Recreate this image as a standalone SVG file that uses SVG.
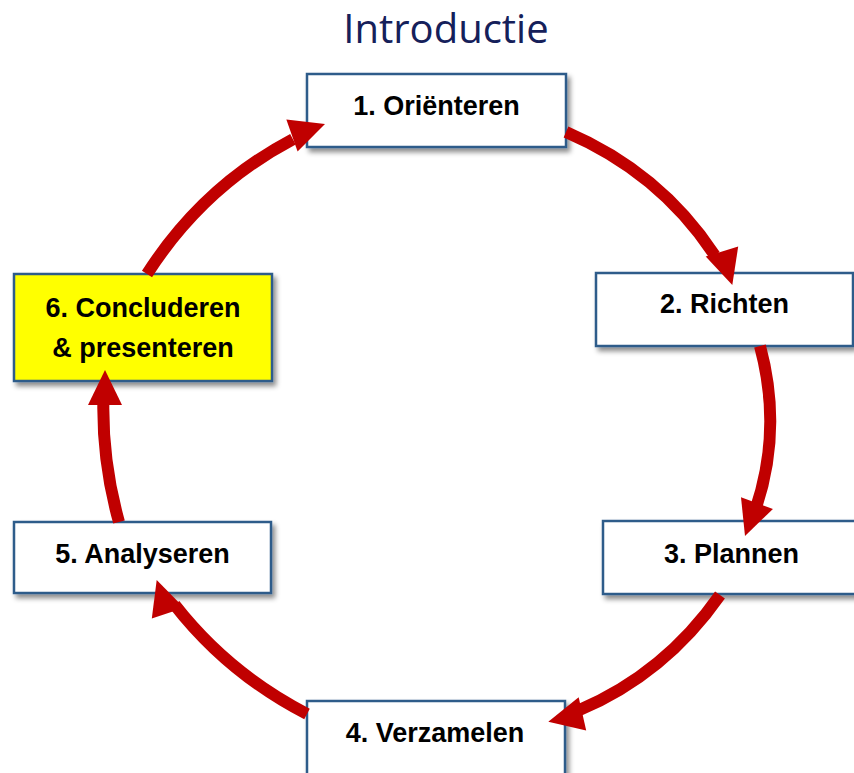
<svg xmlns="http://www.w3.org/2000/svg" width="854" height="773" viewBox="0 0 854 773">
  <style>
    .box { fill: #FFFFFF; stroke: #2F5B8A; stroke-width: 2.5; filter: url(#shadow); }
    .hl { fill: #FFFF00; }
    .lbl { font-family: "Liberation Sans", Arial, sans-serif; font-weight: bold; font-size: 27px; fill: #000000; text-anchor: middle; }
    .title { font-family: "Open Sans", "Liberation Sans", sans-serif; font-size: 40px; fill: #15205A; text-anchor: middle; }
    .arc { fill: none; stroke: #C00000; stroke-width: 12; stroke-dasharray: 85 100; }
    .head { fill: #C00000; }
  </style>
  <defs>
    <filter id="shadow" x="-10%" y="-20%" width="125%" height="150%">
      <feDropShadow dx="3" dy="4" stdDeviation="2.5" flood-color="#000000" flood-opacity="0.45"/>
    </filter>
    <path id="ah" d="M0,0 L-35,-17 L-35,17 Z"/>
  </defs>
  <rect width="854" height="773" fill="#FFFFFF"/>
  <text class="title" x="446" y="43">Introductie</text>

  <g id="node1">
    <rect class="box" x="307" y="74" width="259" height="73"/>
    <text class="lbl" x="436.5" y="115">1. Oriënteren</text>
  </g>
  <g id="node2">
    <rect class="box" x="596" y="273" width="257" height="73"/>
    <text class="lbl" x="724.5" y="313">2. Richten</text>
  </g>
  <g id="node3">
    <rect class="box" x="603" y="521" width="257" height="73"/>
    <text class="lbl" x="731.5" y="563">3. Plannen</text>
  </g>
  <g id="node4">
    <rect class="box" x="307" y="701" width="258" height="90"/>
    <text class="lbl" x="435" y="742">4. Verzamelen</text>
  </g>
  <g id="node5">
    <rect class="box" x="14" y="522" width="257" height="71"/>
    <text class="lbl" x="142.5" y="563">5. Analyseren</text>
  </g>
  <g id="node6">
    <rect class="box hl" x="14" y="274" width="258" height="107"/>
    <text class="lbl" x="143" y="317">6. Concluderen</text>
    <text class="lbl" x="143" y="357">&amp; presenteren</text>
  </g>

  <g id="connectors">
    <g id="c1-2">
      <path class="arc" pathLength="100" d="M566,132 Q676.1,179.1 732.3,285"/>
      <use href="#ah" class="head" transform="translate(732.3,285) rotate(72.8)"/>
    </g>
    <g id="c2-3">
      <path class="arc" pathLength="100" d="M760,346 Q786.4,443.7 745,536"/>
      <use href="#ah" class="head" transform="translate(745,536) rotate(110)"/>
    </g>
    <g id="c3-4">
      <path class="arc" pathLength="100" d="M720,595 Q655.5,687.3 548.3,721.7"/>
      <use href="#ah" class="head" transform="translate(548.3,721.7) rotate(167.2)"/>
    </g>
    <g id="c4-5">
      <path class="arc" pathLength="100" d="M307,714 Q214.6,666.4 156.7,580"/>
      <use href="#ah" class="head" transform="translate(156.7,580) rotate(251.3)"/>
    </g>
    <g id="c5-6">
      <path class="arc" pathLength="100" d="M119,522 Q98.1,447.3 105,370"/>
      <use href="#ah" class="head" transform="translate(105,370) rotate(270)"/>
    </g>
    <g id="c6-1">
      <path class="arc" pathLength="100" d="M147,274 Q212.8,171.5 325,124"/>
      <use href="#ah" class="head" transform="translate(325,124) rotate(-19.3)"/>
    </g>
  </g>
</svg>
